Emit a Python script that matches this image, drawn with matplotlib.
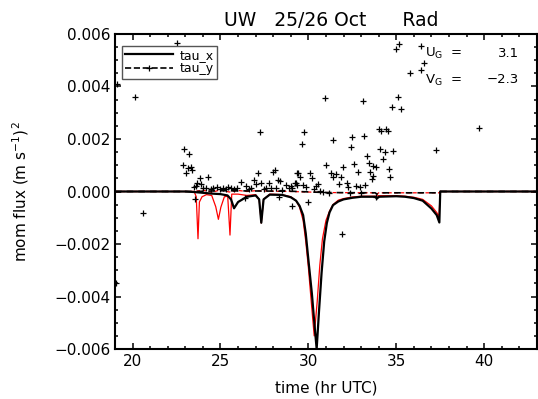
import matplotlib
matplotlib.use("Agg")
import matplotlib.pyplot as plt
from matplotlib.lines import Line2D
from matplotlib.ticker import MultipleLocator, FuncFormatter

# observed flux (+ symbols)
obs_t = [19.05, 19.14, 20.12, 20.61, 22.51,
         22.93, 23.2, 22.87, 23.15, 23.34, 23.06, 23.4,
         23.82, 24.31, 23.68, 23.88, 23.49, 23.59, 23.55,
         24.0, 24.2, 24.45, 24.6, 24.8, 25.0, 25.15, 25.3, 25.45, 25.6, 25.75, 25.95,
         26.15, 26.43, 26.39, 26.6, 26.9, 26.75, 27.13, 27.23, 27.28, 27.03, 27.5,
         27.6, 27.76, 27.85, 27.98, 28.1, 28.14, 28.28, 28.32, 28.36, 28.5, 28.7,
         28.89, 28.99, 29.08, 29.08, 29.23, 29.27, 29.33, 29.36, 29.42, 29.5, 29.65,
         29.73, 29.69, 29.84, 29.97, 30.07, 30.22, 30.41, 30.54, 30.31, 30.64, 30.85,
         30.92, 30.98, 31.17, 31.3, 31.39, 31.41, 31.58, 31.73, 31.83, 31.92, 31.98,
         32.17, 32.24, 32.34, 32.41, 32.49, 32.58, 32.68, 32.81, 32.93, 33.0, 33.08,
         33.19, 33.21, 33.34, 33.44, 33.48, 33.6, 33.68, 33.68, 33.82, 33.82, 34.0,
         34.15, 34.1, 34.23, 34.33, 34.42, 34.53, 34.61, 34.67, 34.76, 34.84, 34.99,
         35.18, 35.09, 35.25, 35.8, 36.43, 36.43, 36.56, 37.27, 39.69]
obs_v = [-0.0035, 0.0041, 0.0036, -0.00083, 0.00565,
         0.0016, 0.00143, 0.0010, 0.00088, 0.00095, 0.0007, 0.0008,
         0.0005, 0.00054, 0.00031, 0.00027, 0.00018, 0.0002, -0.0003,
         0.00012, 0.00015, 0.0001, 0.00012, 0.00016, 0.0001, 0.00014, 0.0001, 0.00018, 0.00012, 0.00008, 0.00015,
         0.00036, 0.0002, -0.00026, 0.00008, 0.00044, 0.00012, 0.00069, 0.00228, 0.00034, 0.00029, 0.0001,
         0.00012, 0.00031, 0.00012, 0.00075, 0.00082, 0.00012, 0.00044, -0.0002, 0.00041, 0.00005, 0.00025,
         0.00012, 0.00021, -0.00055, 0.00012, 0.00034, 0.00031, 0.00025, 0.00069, 0.00072, 0.00056, 0.00181,
         0.00226, 0.00025, 0.00018, -0.00039, 0.00069, 0.00053, 0.00021, 0.00027, 0.00008, 0.00003, -0.00003,
         0.00355, 0.00101, -0.00007, 0.00072, 0.00056, 0.00196, 0.00067, 0.00029, 0.00056, -0.00163, 0.00095,
         0.00031, 0.00018, -0.00005, 0.00168, 0.00209, 0.00105, 0.0002, 0.00075, 0.00019, -0.00005, 0.00345,
         0.0021, 0.00024, 0.00135, 0.00107, 0.00075, 0.00048, 0.0006, 0.00097, 0.00095, -0.00022, 0.00238,
         0.0023, 0.00162, 0.00124, 0.00149, 0.00238, 0.0023, 0.00085, 0.00056, 0.00323, 0.00156, 0.00543,
         0.00562, 0.00359, 0.00314, 0.0045, 0.00463, 0.00555, 0.00488, 0.00158, 0.00243]

# model tau_x, black
bx_t = [19, 23.0, 23.5, 24.0, 24.5, 25.0, 25.4, 25.6, 25.77, 26.0, 26.5, 27.0, 27.2, 27.32,
        27.45, 27.8, 28.5, 29.0, 29.3, 29.5, 29.7, 29.85, 30.0, 30.2, 30.35, 30.47, 30.6,
        30.75, 30.9, 31.05, 31.2, 31.4, 31.7, 32.0, 32.5, 33.0, 33.8, 33.9, 34.0, 35.0,
        35.5, 36.0, 36.5, 37.0, 37.3, 37.45, 37.5, 43]
bx_v = [0, 0, -0.00002, -0.00005, -0.00008, -0.0001, -0.00015, -0.0003, -0.00064, -0.0004,
        -0.0002, -0.00015, -0.0003, -0.00119, -0.0003, -0.00012, -0.00013, -0.00022, -0.00035,
        -0.00055, -0.0009, -0.0016, -0.0026, -0.0039, -0.0051, -0.0060, -0.0046, -0.0031,
        -0.0019, -0.0012, -0.0008, -0.00052, -0.00038, -0.0003, -0.00024, -0.0002, -0.0002,
        -0.00027, -0.0002, -0.00018, -0.0002, -0.00025, -0.00035, -0.00065, -0.0009, -0.00118, 0, 0]

# model tau_y, black dashed
by_t = [19, 23.5, 25.0, 27.0, 29.0, 31.0, 33.8, 33.9, 34.0, 37.45, 37.5, 43]
by_v = [0, 0, 0.00003, 0.00002, 0.00001, -0.00004, -0.00005, -0.0001, -0.00005, -0.00005, 0, 0]

# second run tau_x, red
rx_t = [19, 23.5, 23.62, 23.72, 23.8, 23.95, 24.2, 24.5, 24.73, 24.88, 25.02, 25.22, 25.41,
        25.54, 25.64, 26.0, 26.5, 27.0, 27.2, 27.32, 27.45, 27.8, 28.5, 29.0, 29.3, 29.5,
        29.7, 29.85, 30.0, 30.15, 30.33, 30.5, 30.65, 30.8, 31.0, 31.2, 31.4, 31.7, 32.0,
        32.5, 33.0, 33.8, 34.0, 35.0, 35.5, 36.0, 36.5, 37.0, 37.3, 37.43, 37.5, 43]
rx_v = [0, 0, -0.0002, -0.0018, -0.0004, -0.0002, -0.00012, -0.00015, -0.00058, -0.00106,
        -0.0006, -0.0002, -0.00018, -0.00166, -0.0001, -0.0001, -0.00015, -0.00012, -0.0003,
        -0.0012, -0.0003, -0.0001, -0.00012, -0.0002, -0.00035, -0.0006, -0.0011, -0.0019,
        -0.0029, -0.0041, -0.0055, -0.0042, -0.0028, -0.0018, -0.0011, -0.00075, -0.0005,
        -0.00033, -0.00027, -0.00021, -0.00018, -0.00018, -0.00016, -0.00016, -0.00018,
        -0.00022, -0.0003, -0.00055, -0.0008, -0.00095, 0, 0]

# second run tau_y, red dashed
ry_t = [19, 23.5, 24.0, 24.5, 25.0, 25.5, 26.0, 26.5, 27.0, 28.0, 29.0, 31.0, 33.8, 33.9, 34.0, 37.45, 37.5, 43]
ry_v = [0, 0, 0.00005, -0.00003, 0.00006, -0.00002, 0.00004, 0.0, 0.00003, 0.00001, 0.0,
        -0.00004, -0.00005, -0.0001, -0.00005, -0.00005, 0, 0]

plt.rcParams['font.family'] = ['DejaVu Sans']
fig = plt.figure(figsize=(5.38, 3.99), dpi=100)
ax = fig.add_axes([0.2138, 0.1253, 0.7842, 0.7895])

ax.plot(ry_t, ry_v, color='red', ls='--', lw=0.9, dashes=(3, 2))
ax.plot(rx_t, rx_v, color='red', lw=0.9)
ax.plot(by_t, by_v, color='black', ls='--', lw=1.2, dashes=(4, 3))
ax.plot(bx_t, bx_v, color='black', lw=1.6)
ax.plot(obs_t, obs_v, ls='none', marker='+', color='black', ms=4.5, mew=0.9)

ax.set_xlim(19, 43)
ax.set_ylim(-0.006, 0.006)
ax.xaxis.set_major_locator(MultipleLocator(5))
ax.xaxis.set_minor_locator(MultipleLocator(1))
ax.yaxis.set_major_locator(MultipleLocator(0.002))
ax.yaxis.set_minor_locator(MultipleLocator(0.0005))
ax.yaxis.set_major_formatter(FuncFormatter(lambda v, p: f"{v:.3f}".replace('-', '\u2212')))
ax.tick_params(which='both', direction='in', top=True, right=True, width=1.1, labelsize=11)
ax.tick_params(which='major', length=4.5)
ax.tick_params(which='minor', length=2.5)
for s in ax.spines.values():
    s.set_linewidth(1.5)

ax.set_xlabel("time (hr UTC)", fontsize=11)
ax.xaxis.set_label_coords(0.5, -0.1)
ax.set_ylabel("mom flux (m s$^{-1}$)$^2$", fontsize=11)
ax.yaxis.set_label_coords(-0.2, 0.5)

fig.text(0.615, 0.935, "UW   25/26 Oct      Rad", ha='center', va='baseline', fontsize=13.5)

handles = [Line2D([], [], color='black', lw=1.6),
           Line2D([], [], color='black', lw=1.2, ls='--', marker='+', ms=4.5, mew=0.9)]
ax.legend(handles, ['tau_x', 'tau_y'], loc='upper left', bbox_to_anchor=(0.0166, 0.963),
          borderaxespad=0, fontsize=9, handlelength=3.8, handletextpad=0.6, labelspacing=0.05,
          borderpad=0.25, fancybox=False, framealpha=1, edgecolor='#555555')

ax.text(0.735, 0.937, "U$_{\\rm G}$  =", transform=ax.transAxes, fontsize=9.5, va='center')
ax.text(0.957, 0.937, "3.1", transform=ax.transAxes, fontsize=9.5, va='center', ha='right')
ax.text(0.735, 0.854, "V$_{\\rm G}$  =", transform=ax.transAxes, fontsize=9.5, va='center')
ax.text(0.957, 0.854, "\u22122.3", transform=ax.transAxes, fontsize=9.5, va='center', ha='right')

fig.savefig("out.png", dpi=100)
